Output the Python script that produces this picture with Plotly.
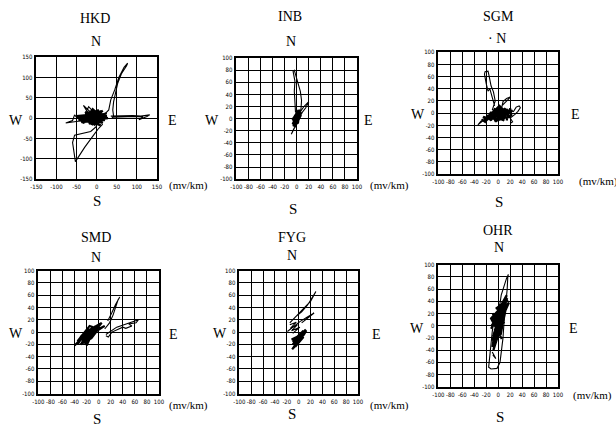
import plotly.graph_objects as go

# Electric-field hodograms (E-W component vs N-S component, mV/km) for six stations.
# "path" = outer excursions (thin pen), "core" = dense central scribble (heavy pen).
# None separates pen-up breaks in a trace.

hkd_path_e = [5, 20, 30, 35, 45, 55, 68, 77, 74, 62, 52, 46, 42, 40, 42, 38, None,
              35, 60, 90, 110, 132, 125, 105, 115, 95, 60, 40, None,
              15, 5, -10, -30, -53, -55, -57, -60, -55, -35, -15, 0, None,
              -10, -33, -25, -20, -5, None, -20, -77, -60, -55, -50, -30]
hkd_path_n = [5, 10, 20, 45, 70, 100, 125, 135, 128, 110, 85, 60, 40, 20, 5, 0, None,
              5, 6, 6, 5, 8, 4, -4, 3, 4, 3, 2, None,
              -15, -25, -45, -72, -107, -95, -80, -60, -42, -38, -33, -20, None,
              10, 31, 18, 28, 12, None, -4, -12, -6, 8, 2, -2]
hkd_core_e = [-5, -30, 10, -20, 20, -40, 15, -25, 25, -15, 5, -45, 20, -10, -35, 25, -20, 10,
              -50, 0, -30, 15, -12, 28, -22, -40, -15, 5, -8, 12, -18, -5, 8, -35, 22, -10,
              -28, 18, -3, -20, -38, 0, -25, 10, -15, 20, -32, -5, 15, -42, 2, -18, 24, -8,
              -28, 12, -12, -36, 6, -20]
hkd_core_n = [0, 8, -5, -10, 10, 5, -12, 15, 5, -15, 20, -5, -5, 22, -12, 12, 0, -18,
              5, 10, -8, 18, -5, 0, 5, -2, -8, 15, 2, 18, -10, 8, 0, -8, 5, -15,
              15, 8, -3, 12, -10, -6, 2, 14, -14, -2, 6, -16, 10, 0, -10, 10, 3, -12,
              -2, 6, 16, -6, -4, -14]

inb_path_e = [-2, -3, -4, -3, -6, -4, -2, 2, 6, 8, 7, 4, None,
              -6, 5, 12, 20, 15, 5, None,
              0, -5, -9, -4]
inb_path_n = [10, 25, 45, 62, 78, 80, 72, 60, 45, 30, 15, 5, None,
              -2, 10, 20, 28, 18, 5, None,
              -8, -18, -26, -15]
inb_core_e = [-6, 4, -5, 6, -3, 7, -7, 3, -4, 8, -6, 2, 5, -2, 6, -5, 0, -3, 4, -6, 1, -1,
              5, -4, 3, 0, -7, 6, -2, 4, -5, 7, -6, 2]
inb_core_n = [-12, 8, -6, 12, -14, 6, -2, 14, -10, 10, 0, -8, 15, -4, 4, -13, 10, -8, 2, -4, 6,
              -10, 8, 2, -4, 0, -9, 11, -12, 13, -3, 9, -7, 5]

sgm_path_e = [-10, -5, -8, -12, -15, -17, -22, -23, -20, -17, -14, -12, -9, -6, None,
              6, 8, 14, 21, 16, 6, None, -20, -34, -28, None, 25, 30, 35, 37, 33, 28, 20, 24, 21]
sgm_path_n = [5, 20, 35, 45, 60, 69, 68, 64, 48, 36, 40, 33, 22, 12, None,
              10, 19, 24, 27, 22, 12, None, -8, -19, -12, None, 2, 10, 12, 9, 3, -2, -8, -14, -16]
sgm_core_e = [-28, -22, -18, -12, -8, -15, -5, -10, 0, -6, 5, 2, 8, -3, 12, 6, 15, 10, 18,
              14, 20, 22, -2, -10, -20, -25, -18, -12, -4, 4, -8, 10, 0, 16, -14, 6, -6, 20,
              2, -16, 12, -2, 24, 8]
sgm_core_n = [-10, -14, -5, -12, 0, -8, 8, -10, 5, -6, 10, -8, 6, -2, 8, -10, 5, -6, 2,
              -12, 8, -4, -12, -4, -12, -6, -8, 2, -14, 0, 4, -12, -8, 6, -2, 10, -10, -6,
              12, -6, 2, 6, 4, -4]

smd_path_e = [10, 18, 24, 28, 32, 35, 33, 28, 22, 15, None,
              12, 20, 30, 42, 55, 66, 62, 50, 55, 45, 40, 30, 22, 16, 12]
smd_path_n = [5, 15, 28, 40, 52, 57, 54, 45, 32, 18, None,
              -4, 2, 8, 12, 16, 20, 15, 13, 10, 6, 8, 3, 0, -8, -6]
smd_core_e = [-40, -30, -35, -25, -32, -20, -28, -15, -25, -10, -22, -12, -20, -5, -18, 0,
              -15, -8, -25, 5, -12, -30, -18, -22, -10, -35, -15, 0, 10, -5, -28, -14,
              -24, -6, -30, -12, 2]
smd_core_n = [-22, -12, -20, -5, -15, 0, -18, 5, -10, 8, -15, 2, -22, 10, -8, 12,
              -12, 5, -2, 15, -5, -8, 5, -20, -2, -15, 10, 5, 10, 0, -14, -2,
              -6, 6, -20, -10, 8]

fyg_path_e = [-15, -5, 5, 15, 22, 29, 27, 20, 8, -8, None,
              -19, -8, 2, 14, 26, 18, 5, None,
              -15, -4, -14, -2, -12, 2, -10]
fyg_path_n = [15, 25, 33, 44, 55, 66, 62, 50, 38, 22, None,
              1, 10, 17, 24, 31, 25, 15, None,
              12, 16, 6, 12, 2, 8, -2]
fyg_core_e = [-11, 6, -10, 10, -8, 12, -6, 8, -12, 10, -4, 13, -9, 5, -3, 8, -10, 9, -7, 11]
fyg_core_n = [-28, -5, -20, 0, -15, 4, -24, -8, -12, -2, -18, 3, -26, -10, -8, 2, -16, -4, -22, -1]

ohr_path_e = [0, -7, -10, -12, -15, -16, -12, -2, 3, 5, 8, 10, 13, 15, 16, 17, 14, 10, 5, 2, None,
              -10, -6, -4, -9]
ohr_path_n = [-5, 11, -10, -33, -60, -68, -71, -70, -60, -45, -20, 10, 35, 60, 80, 84, 78, 65, 50, 30, None,
              -43, -50, -54, -48]
ohr_core_e = [-10, 5, -8, 10, -12, 12, -5, 8, -10, 15, -6, 6, -11, 18, -4, 9, -9, 4, 12, -7,
              3, -10, 0, 7, -3, 14, -8, 5, -2, 10, -6, 2, -9, 11, -4, 16, -12, 6]
ohr_core_n = [-25, 20, -15, 30, -5, 40, -30, 15, 10, 45, -20, 25, 0, 38, -10, 5, 20, -15, 25, 5,
              35, -35, -5, 10, 20, 50, -40, 0, 15, 20, -8, 10, -18, 32, 28, 42, 12, -22]

names = ["HKD", "INB", "SGM", "SMD", "FYG", "OHR"]
path_e = [hkd_path_e, inb_path_e, sgm_path_e, smd_path_e, fyg_path_e, ohr_path_e]
path_n = [hkd_path_n, inb_path_n, sgm_path_n, smd_path_n, fyg_path_n, ohr_path_n]
core_e = [hkd_core_e, inb_core_e, sgm_core_e, smd_core_e, fyg_core_e, ohr_core_e]
core_n = [hkd_core_n, inb_core_n, sgm_core_n, smd_core_n, fyg_core_n, ohr_core_n]
limits = [150, 100, 100, 100, 100, 100]
steps = [50, 20, 20, 20, 20, 20]

W, H = 616, 430
# plot boxes in pixels: (left, top, right, bottom)
boxes = [(31, 54, 154, 178), (235, 55, 358, 178), (441, 49, 563, 173),
         (33, 271, 156, 396), (238, 271, 359, 396), (441, 265, 563, 389)]
# label positions in pixels: title, N, W, E, S, unit
labels = [
    dict(t=(91, 15), n=(92, 38), w=(10, 118), e=(170, 118), s=(93, 200), u=(186, 184)),
    dict(t=(290, 13), n=(291, 38), w=(210, 118), e=(370, 118), s=(293, 208), u=(391, 184)),
    dict(t=(502, 13), n=(501, 35), w=(420, 112), e=(581, 112), s=(503, 201), u=(604, 180)),
    dict(t=(92, 237), n=(92, 258), w=(10, 335), e=(171, 336), s=(93, 422), u=(186, 408)),
    dict(t=(292, 237), n=(292, 256), w=(218, 335), e=(378, 336), s=(292, 417), u=(391, 408)),
    dict(t=(502, 230), n=(503, 248), w=(419, 330), e=(579, 330), s=(504, 420), u=(598, 398)),
]

serif = "Liberation Serif, Times New Roman, serif"
tickfont = dict(family="DejaVu Sans Condensed, DejaVu Sans, sans-serif", size=6, color="black")

fig = go.Figure()
annotations = []
layout_axes = {}

for i, name in enumerate(names):
    k = "" if i == 0 else str(i + 1)
    fig.add_trace(go.Scatter(
        x=path_e[i], y=path_n[i], mode="lines",
        line=dict(color="black", width=1.1),
        xaxis="x" + k, yaxis="y" + k, showlegend=False, hoverinfo="skip",
    ))
    fig.add_trace(go.Scatter(
        x=core_e[i], y=core_n[i], mode="lines",
        line=dict(color="black", width=2.2),
        xaxis="x" + k, yaxis="y" + k, showlegend=False, hoverinfo="skip",
    ))
    l, t, r, b = boxes[i]
    lim, st = limits[i], steps[i]
    vals = list(range(-lim, lim + 1, st))
    common = dict(
        range=[-lim, lim], tickvals=vals, ticktext=[str(v) for v in vals],
        showgrid=True, gridcolor="black", gridwidth=1, zeroline=False,
        showline=True, linecolor="black", linewidth=1.5, mirror=True,
        ticks="", tickfont=tickfont, fixedrange=True, tickangle=0,
    )
    layout_axes["xaxis" + k] = dict(common, domain=[l / W, r / W], anchor="y" + k, ticklabelstandoff=1)
    layout_axes["yaxis" + k] = dict(common, domain=[1 - b / H, 1 - t / H], anchor="x" + k, ticklabelstandoff=1)

    lb = labels[i]
    def add(pos, text, size, family=serif, xanchor="center"):
        annotations.append(dict(
            x=pos[0] / W, y=1 - pos[1] / H, xref="paper", yref="paper",
            text=text, showarrow=False, xanchor=xanchor, yanchor="middle",
            font=dict(family=family, size=size, color="black"),
        ))
    add(lb["t"], name, 14)
    add(lb["n"], "N" if name != "SGM" else "· N", 14)
    add(lb["w"], "W", 14)
    add(lb["e"], "E", 14)
    add(lb["s"], "S", 15)
    add(lb["u"], "(mv/km)", 11)

fig.update_layout(
    width=W, height=H, margin=dict(l=0, r=0, t=0, b=0),
    paper_bgcolor="white", plot_bgcolor="white",
    annotations=annotations, **layout_axes,
)

fig.write_html("out.html")
